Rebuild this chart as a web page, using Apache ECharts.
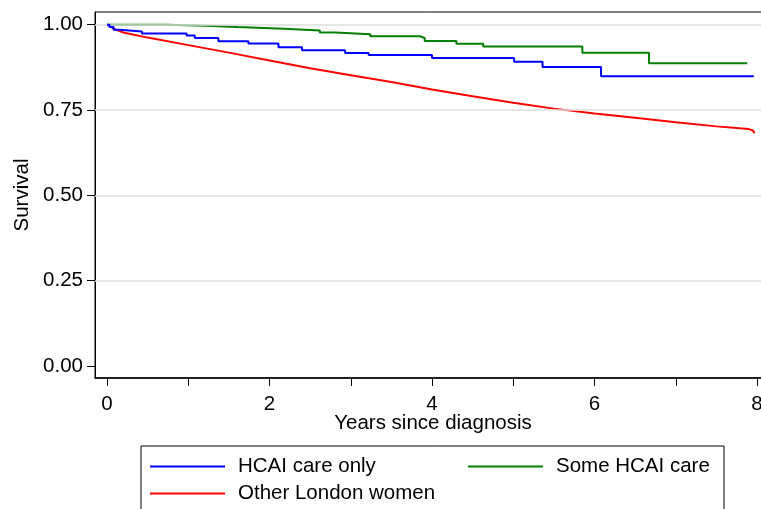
<!DOCTYPE html>
<html>
<head>
<meta charset="utf-8">
<script src="https://cdn.jsdelivr.net/npm/echarts@6/dist/echarts.min.js"></script>
<style>
  html, body { margin: 0; padding: 0; background: #fff; }
  #chart { width: 761px; height: 509px; }
</style>
</head>
<body>
<div id="chart"></div>
<script>
// Kaplan-Meier survival: [years, survival]
var hcaiOnly = [
  [0, 1.0], [0.03, 0.993], [0.08, 0.985], [0.15, 0.98], [0.43, 0.974],
  [0.98, 0.968], [1.08, 0.961], [1.37, 0.951], [1.74, 0.945], [2.11, 0.934],
  [2.40, 0.925], [2.93, 0.917], [3.22, 0.911], [4.0, 0.902], [5.01, 0.891],
  [5.36, 0.876], [6.08, 0.849], [7.96, 0.849]
]
var someHcai = [
  [0, 1.0], [0.74, 0.997], [1.22, 0.993], [1.60, 0.988], [2.18, 0.983],
  [2.62, 0.977], [2.81, 0.972], [3.24, 0.966], [3.85, 0.961], [3.91, 0.952],
  [4.30, 0.944], [4.63, 0.936], [5.85, 0.918], [6.67, 0.887], [7.88, 0.887]
]
var otherLondon = [
  [0, 1.0], [0.04, 0.995], [0.1, 0.986], [0.2, 0.977], [0.5, 0.962],
  [1.0, 0.940], [1.5, 0.918], [2.0, 0.895], [2.5, 0.872], [3.0, 0.852],
  [3.5, 0.832], [4.0, 0.810], [4.5, 0.790], [5.0, 0.771], [5.5, 0.754],
  [6.0, 0.740], [6.5, 0.727], [7.0, 0.714], [7.5, 0.702], [7.9, 0.694],
  [7.95, 0.690], [7.97, 0.682]
]
var xTicks = [0, 1, 2, 3, 4, 5, 6, 7, 8]
var xLabels = [0, 2, 4, 6, 8]
var yTicks = [0, 0.25, 0.5, 0.75, 1]
var gridLines = [0.25, 0.5, 0.75, 1]

var font = 'Liberation Sans'
var fs = 20.5

function legendItem(name, left, top) {
  return {
    data: [name],
    left: left,
    top: top,
    padding: 0,
    icon: 'rect',
    itemWidth: 75,
    itemHeight: 2,
    textStyle: { color: '#000', fontSize: fs, fontFamily: font, padding: [0, 0, 0, 8] }
  }
}

var myChart = echarts.init(document.getElementById('chart'))
var option = {
  backgroundColor: '#fff',
  animation: false,
  textStyle: { fontFamily: font },
  grid: {
    left: 95,
    right: -10,
    top: 12,
    bottom: 131,
    outerBoundsMode: 'none',
    show: true,
    borderColor: '#000',
    borderWidth: 1
  },
  xAxis: {
    type: 'value',
    min: -0.148,
    max: 8.172,
    name: 'Years since diagnosis',
    nameLocation: 'middle',
    nameMoveOverlap: false,
    nameGap: 35,
    nameTextStyle: { color: '#000', fontSize: fs, fontFamily: font },
    axisLine: { show: true, onZero: false, lineStyle: { color: '#000', width: 1.5 } },
    axisTick: { show: true, length: 8, customValues: xTicks, lineStyle: { color: '#000' } },
    axisLabel: { customValues: xLabels, color: '#000', fontSize: fs, margin: 16, fontFamily: font },
    splitLine: { show: false }
  },
  yAxis: {
    type: 'value',
    min: -0.035,
    max: 1.037,
    name: 'Survival',
    nameLocation: 'middle',
    nameMoveOverlap: false,
    nameRotate: 90,
    nameGap: 62,
    nameTextStyle: { color: '#000', fontSize: fs, fontFamily: font },
    axisLine: { show: true, onZero: false, lineStyle: { color: '#000', width: 1 } },
    axisTick: { show: true, length: 8, customValues: yTicks, lineStyle: { color: '#000' } },
    axisLabel: {
      customValues: yTicks, color: '#000', fontSize: fs, margin: 12, fontFamily: font,
      formatter: function (v) { return v.toFixed(2) }
    },
    splitLine: { show: false }
  },
  legend: [
    legendItem('HCAI care only', 150, 456),
    legendItem('Some HCAI care', 468, 456),
    legendItem('Other London women', 150, 483)
  ],
  graphic: [{
    type: 'rect',
    shape: { x: 141, y: 446, width: 583, height: 80 },
    style: { fill: 'none', stroke: '#000', lineWidth: 1 },
    silent: true
  }],
  series: [
    {
      name: 'grid',
      type: 'line',
      data: [],
      silent: true,
      z: 1,
      markLine: {
        silent: true,
        symbol: 'none',
        label: { show: false },
        lineStyle: { color: '#dcdcdc', width: 1.5, type: 'solid' },
        data: gridLines.map(function (v) { return { yAxis: v } })
      }
    },
    {
      name: 'Other London women',
      type: 'line',
      data: otherLondon,
      symbol: 'none',
      lineStyle: { color: '#ff0000', width: 2 },
      itemStyle: { color: '#ff0000' },
      z: 3
    },
    {
      name: 'Some HCAI care',
      type: 'line',
      step: 'end',
      data: someHcai,
      symbol: 'none',
      lineStyle: { color: '#008000', width: 2 },
      itemStyle: { color: '#008000' },
      z: 4
    },
    {
      name: 'HCAI care only',
      type: 'line',
      step: 'end',
      data: hcaiOnly,
      symbol: 'none',
      lineStyle: { color: '#0000ff', width: 2 },
      itemStyle: { color: '#0000ff' },
      z: 5
    }
  ]
}
myChart.setOption(option)
</script>
</body>
</html>
